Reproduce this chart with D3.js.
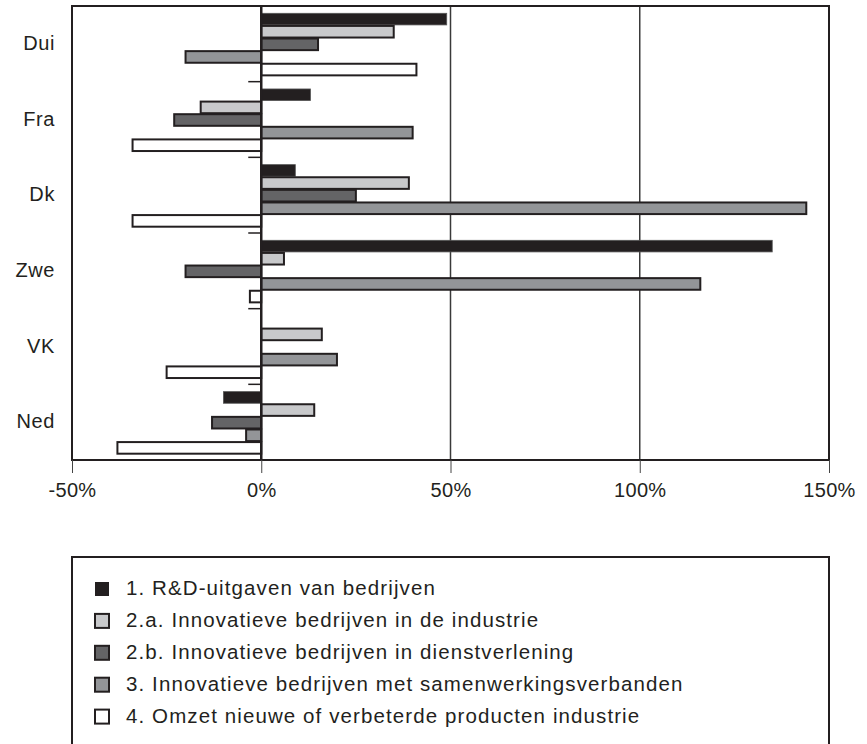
<!DOCTYPE html>
<html>
<head>
<meta charset="utf-8">
<script src="https://cdn.jsdelivr.net/npm/d3@7"></script>
<style>
  body { margin: 0; background: #fff; }
  svg { display: block; font-family: "Liberation Sans", Arial, Helvetica, sans-serif; }
</style>
</head>
<body>
<svg id="chart" width="867" height="744"></svg>
<script>
const categories = ["Dui", "Fra", "Dk", "Zwe", "VK", "Ned"];
const seriesNames = [
  "1. R&D-uitgaven van bedrijven",
  "2.a. Innovatieve bedrijven in de industrie",
  "2.b. Innovatieve bedrijven in dienstverlening",
  "3. Innovatieve bedrijven met samenwerkingsverbanden",
  "4. Omzet nieuwe of verbeterde producten industrie"
];
const seriesColors = ["#231f20", "#c8c9cb", "#646466", "#939598", "#ffffff"];
// values in % per category, order: series 1, 2a, 2b, 3, 4
const rd          = [49, 13, 9, 135, 0, -10];
const innovInd    = [35, -16, 39, 6, 16, 14];
const innovDienst = [15, -23, 25, -20, 0, -13];
const samenwerk   = [-20, 40, 144, 116, 20, -4];
const omzet       = [41, -34, -34, -3, -25, -38];
const seriesValues = [rd, innovInd, innovDienst, samenwerk, omzet];
const xTicks = [-50, 0, 50, 100, 150];

(function () {
const svg = d3.select("#chart");
const pL = 72, pR = 829, pT = 6, pB = 460;

const x = d3.scaleLinear().domain([-50, 150]).range([pL, pR]);
const y0 = d3.scaleBand().domain(categories).range([pT, pB])
  .paddingInner(1/6).paddingOuter(1/12);
const y1 = d3.scaleBand().domain(d3.range(seriesNames.length)).range([0, y0.bandwidth()]);

const ink = "#231f20";

// gridlines at 50 and 100
svg.append("g").selectAll("line").data([50, 100]).join("line")
  .attr("x1", d => x(d)).attr("x2", d => x(d))
  .attr("y1", pT).attr("y2", pB)
  .attr("stroke", "#3a3a3a").attr("stroke-width", 1.5);

// bars
const groups = svg.append("g").selectAll("g").data(categories).join("g")
  .attr("transform", d => `translate(0,${y0(d)})`);
groups.selectAll("rect")
  .data((c, ci) => seriesValues.map((vals, si) => ({ si, v: vals[ci] })).filter(d => d.v !== 0))
  .join("rect")
  .attr("x", d => x(Math.min(0, d.v)))
  .attr("width", d => Math.abs(x(d.v) - x(0)))
  .attr("y", d => y1(d.si) + 1)
  .attr("height", y1.bandwidth() - 1)
  .attr("fill", d => seriesColors[d.si])
  .attr("stroke", d => d.si === 0 ? "#555" : ink)
  .attr("stroke-width", d => d.si === 0 ? 0.8 : 2);

// zero line
svg.append("line")
  .attr("x1", x(0)).attr("x2", x(0)).attr("y1", pT).attr("y2", pB)
  .attr("stroke", ink).attr("stroke-width", 2.5);

// category boundary ticks at zero line
const boundaries = categories.slice(1).map(c => y0(c) - y0.step() * (1/12));
svg.append("g").selectAll("line").data(boundaries).join("line")
  .attr("x1", x(0) - 13).attr("x2", x(0))
  .attr("y1", d => d).attr("y2", d => d)
  .attr("stroke", ink).attr("stroke-width", 1.5);

// frame
svg.append("rect")
  .attr("x", pL).attr("y", pT).attr("width", pR - pL).attr("height", pB - pT)
  .attr("fill", "none").attr("stroke", ink).attr("stroke-width", 2);

// x axis
const xAxis = svg.append("g").attr("transform", `translate(0,${pB})`)
  .call(d3.axisBottom(x).tickValues(xTicks).tickSize(13).tickFormat(d => d + "%"));
xAxis.select(".domain").remove();
xAxis.selectAll(".tick line").attr("stroke", "#444").attr("stroke-width", 1);
xAxis.selectAll(".tick text").attr("font-size", 20).attr("fill", ink)
  .attr("font-family", "Liberation Sans, Arial, sans-serif")
  .attr("letter-spacing", 0.3)
  .attr("dy", "1.1em").attr("y", 15);

// y labels
svg.append("g").selectAll("text").data(categories).join("text")
  .attr("x", 55)
  .attr("y", d => y0(d) + y0.bandwidth() / 2 + 1)
  .attr("text-anchor", "end").attr("dominant-baseline", "middle")
  .attr("font-size", 20).attr("letter-spacing", 0.6).attr("fill", ink)
  .text(d => d);

// legend
const legTop = 557;
svg.append("rect")
  .attr("x", pL).attr("y", legTop).attr("width", pR - pL).attr("height", 250)
  .attr("fill", "none").attr("stroke", ink).attr("stroke-width", 2);
const leg = svg.append("g").selectAll("g").data(seriesNames).join("g")
  .attr("transform", (d, i) => `translate(95,${589 + i * 31.9})`);
leg.append("rect")
  .attr("x", 0).attr("y", -7).attr("width", 14).attr("height", 14)
  .attr("fill", (d, i) => seriesColors[i])
  .attr("stroke", (d, i) => i === 0 ? "none" : ink).attr("stroke-width", 2);
leg.append("text")
  .attr("x", 31).attr("y", 1).attr("dominant-baseline", "middle")
  .attr("font-size", 20.5).attr("letter-spacing", 1.1).attr("fill", ink)
  .text(d => d);
})();
</script>
</body>
</html>
